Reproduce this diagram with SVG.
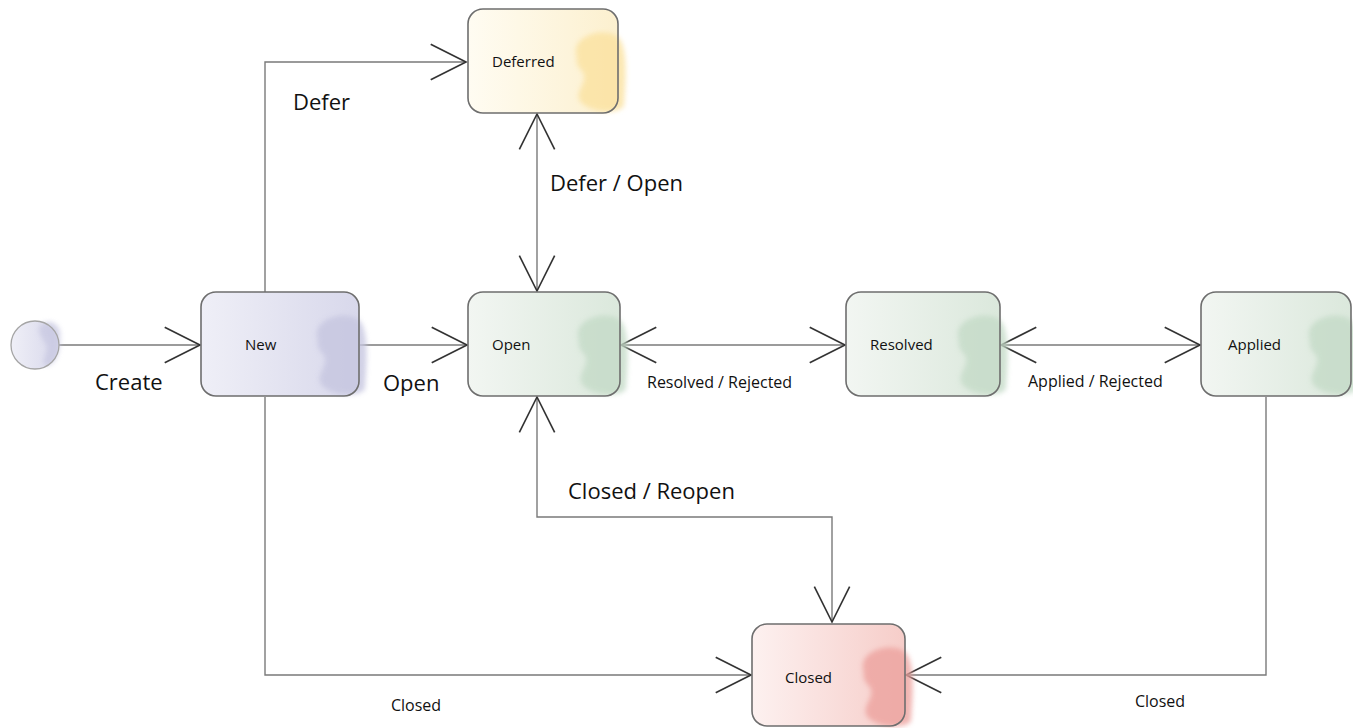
<svg xmlns="http://www.w3.org/2000/svg" width="1353" height="728" viewBox="0 0 1353 728">
<style>
.box{fill:none;stroke:#6e6e6e;stroke-width:1.6}
.edge{fill:none;stroke:#7a7a7a;stroke-width:1.4}
.nl{font-family:"Open Sans","DejaVu Sans",sans-serif;font-size:15px;fill:#111;font-weight:500}
.el{font-family:"Open Sans","DejaVu Sans",sans-serif;font-size:22px;fill:#111;font-weight:500}
.sl{font-family:"Open Sans","DejaVu Sans",sans-serif;font-size:16px;fill:#111;font-weight:500}
.blob{filter:url(#soft)}
</style>
<defs>
<filter id="soft" x="-50%" y="-50%" width="200%" height="200%"><feGaussianBlur stdDeviation="2.5"/></filter>
<linearGradient id="gLav" x1="0" y1="0" x2="1" y2="0"><stop offset="0" stop-color="#efeff7"/><stop offset="1" stop-color="#d8d8eb"/></linearGradient>
<linearGradient id="gGrn" x1="0" y1="0" x2="1" y2="0"><stop offset="0" stop-color="#f2f6f2"/><stop offset="1" stop-color="#dbe8dc"/></linearGradient>
<linearGradient id="gYel" x1="0" y1="0" x2="1" y2="0"><stop offset="0" stop-color="#fffcf2"/><stop offset="1" stop-color="#fcf0cf"/></linearGradient>
<linearGradient id="gPnk" x1="0" y1="0" x2="1" y2="0"><stop offset="0" stop-color="#fdf1f0"/><stop offset="1" stop-color="#f6cdc9"/></linearGradient>
<marker id="arr" markerUnits="userSpaceOnUse" markerWidth="40" markerHeight="40" viewBox="-32 -17 34 34" refX="0" refY="0" orient="auto-start-reverse">
<path d="M-30,-15 L0,0 L-30,15" fill="none" stroke="#333" stroke-width="1.4"/>
</marker>
<path id="blob" d="M-42,45 C-45,25 -12,18 0,28 C10,38 8,70 6,96 C4,106 -30,104 -38,92 C-44,82 -28,72 -36,62 C-44,54 -40,50 -42,45 Z"/>
</defs>
<rect width="1353" height="728" fill="#ffffff"/>

<g id="connectors">
<path class="edge" d="M59,345 L200,345" marker-end="url(#arr)"/>
<path class="edge" d="M360,345 L467,345" marker-end="url(#arr)"/>
<path class="edge" d="M265,292 L265,62 L466,62" marker-end="url(#arr)"/>
<path class="edge" d="M537,114 L537,291" marker-start="url(#arr)" marker-end="url(#arr)"/>
<path class="edge" d="M621,345 L845,345" marker-start="url(#arr)" marker-end="url(#arr)"/>
<path class="edge" d="M1001,345 L1200,345" marker-start="url(#arr)" marker-end="url(#arr)"/>
<path class="edge" d="M537,397 L537,517 L832,517 L832,622" marker-start="url(#arr)" marker-end="url(#arr)"/>
<path class="edge" d="M265,397 L265,675 L751,675" marker-end="url(#arr)"/>
<path class="edge" d="M1266,397 L1266,675 L906,675" marker-end="url(#arr)"/>
<text class="el" x="293" y="110">Defer</text>
<text class="el" x="550" y="191">Defer / Open</text>
<text class="el" x="95" y="390">Create</text>
<text class="el" x="383" y="391">Open</text>
<text class="sl" x="647" y="388">Resolved / Rejected</text>
<text class="sl" x="1028" y="387">Applied / Rejected</text>
<text class="el" x="568" y="499">Closed / Reopen</text>
<text class="sl" x="391" y="711">Closed</text>
<text class="sl" x="1135" y="707">Closed</text>
</g>

<g id="initial">
<circle cx="35" cy="345" r="24" fill="url(#gLav)"/>
<path class="blob" d="M42,324 C52,318 62,326 60,338 C60,352 56,364 46,366 C40,360 50,352 46,344 C40,336 36,328 42,324 Z" fill="#c9c9e2" opacity="0.8"/>
<circle cx="35" cy="345" r="24" fill="none" stroke="#a5a5a5" stroke-width="1.3"/>
</g>

<g id="node-deferred">
<rect x="468" y="9" width="150" height="104" rx="15" fill="url(#gYel)"/>
<use class="blob" href="#blob" transform="translate(618,9)" fill="#fbe2a0" opacity="0.8"/>
<rect class="box" x="468" y="9" width="150" height="104" rx="15"/>
<text class="nl" x="492" y="67">Deferred</text>
</g>

<g id="node-new">
<rect x="201" y="292" width="158" height="104" rx="15" fill="url(#gLav)"/>
<use class="blob" href="#blob" transform="translate(359,292)" fill="#c6c6e0" opacity="0.8"/>
<rect class="box" x="201" y="292" width="158" height="104" rx="15"/>
<text class="nl" x="245" y="350">New</text>
</g>

<g id="node-open">
<rect x="468" y="292" width="152" height="104" rx="15" fill="url(#gGrn)"/>
<use class="blob" href="#blob" transform="translate(620,292)" fill="#c5dbc8" opacity="0.8"/>
<rect class="box" x="468" y="292" width="152" height="104" rx="15"/>
<text class="nl" x="492" y="350">Open</text>
</g>

<g id="node-resolved">
<rect x="846" y="292" width="154" height="104" rx="15" fill="url(#gGrn)"/>
<use class="blob" href="#blob" transform="translate(1000,292)" fill="#c5dbc8" opacity="0.8"/>
<rect class="box" x="846" y="292" width="154" height="104" rx="15"/>
<text class="nl" x="870" y="350">Resolved</text>
</g>

<g id="node-applied">
<rect x="1201" y="292" width="150" height="104" rx="15" fill="url(#gGrn)"/>
<use class="blob" href="#blob" transform="translate(1351,292)" fill="#c5dbc8" opacity="0.8"/>
<rect class="box" x="1201" y="292" width="150" height="104" rx="15"/>
<text class="nl" x="1228" y="350">Applied</text>
</g>

<g id="node-closed">
<rect x="752" y="624" width="153" height="102" rx="15" fill="url(#gPnk)"/>
<use class="blob" href="#blob" transform="translate(905,624)" fill="#eda39f" opacity="0.8"/>
<rect class="box" x="752" y="624" width="153" height="102" rx="15"/>
<text class="nl" x="785" y="683">Closed</text>
</g>
</svg>
